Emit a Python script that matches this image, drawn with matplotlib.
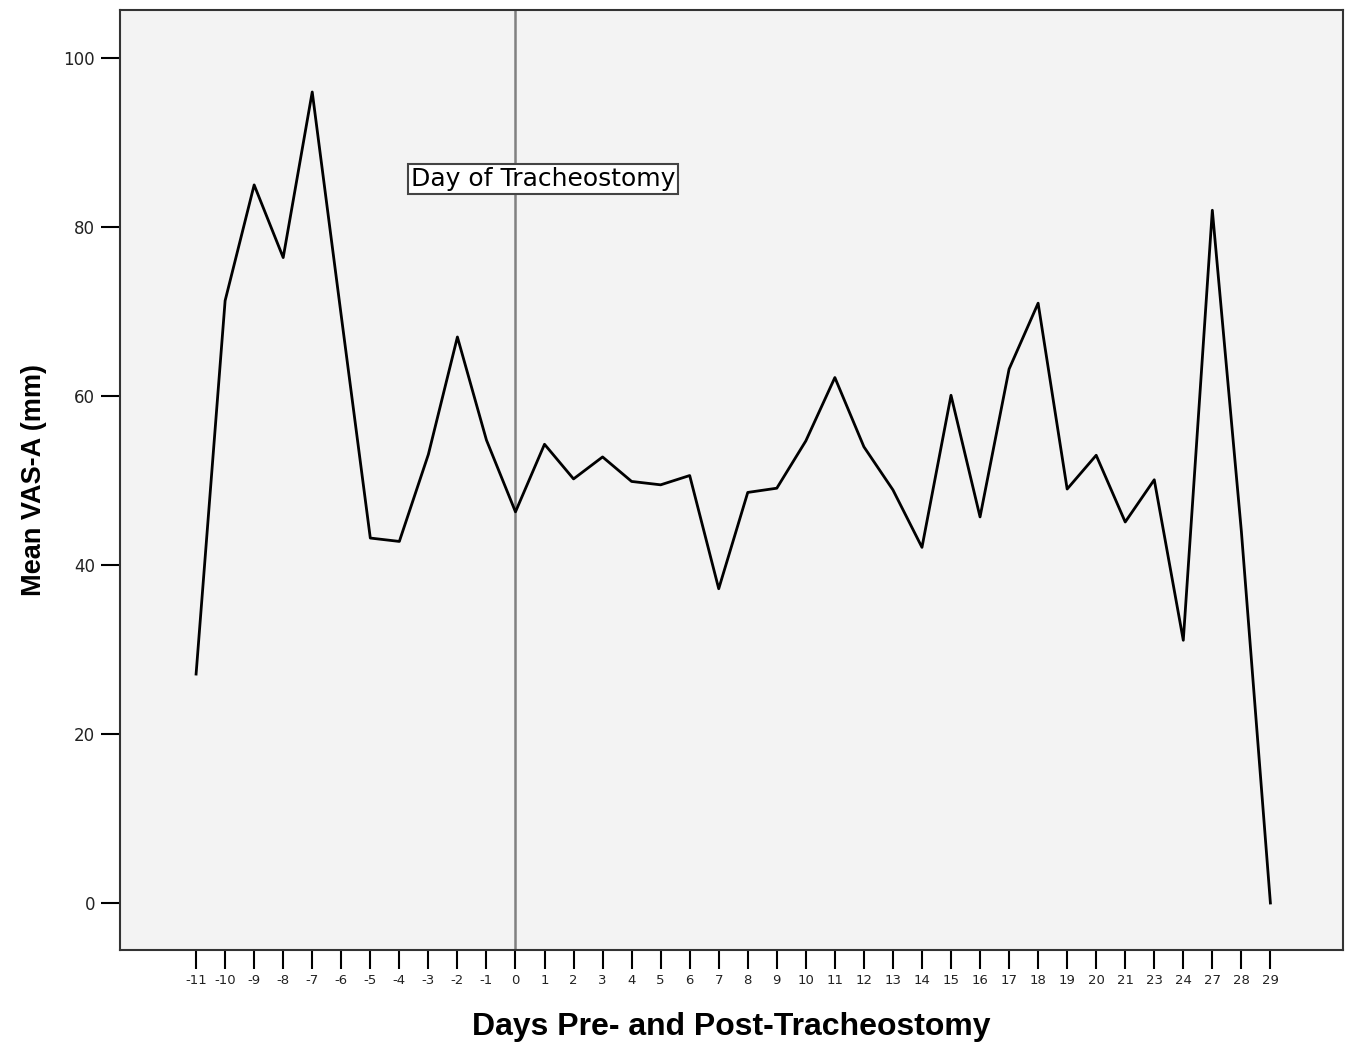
import matplotlib
matplotlib.use("Agg")
import matplotlib.pyplot as plt
import numpy as np

days = ["-11", "-10", "-9", "-8", "-7", "-6", "-5", "-4", "-3", "-2", "-1", "0",
        "1", "2", "3", "4", "5", "6", "7", "8", "9", "10", "11", "12", "13", "14",
        "15", "16", "17", "18", "19", "20", "21", "23", "24", "27", "28", "29"]
mean_vas = [27.1, 71.3, 85.0, 76.4, 96.0, 69.5, 43.2, 42.8, 53.1, 67.0, 54.8, 46.3,
            54.3, 50.2, 52.8, 49.9, 49.5, 50.6, 37.2, 48.6, 49.1, 54.7, 62.2, 54.0, 48.9, 42.1,
            60.1, 45.7, 63.2, 71.0, 49.0, 53.0, 45.1, 50.1, 31.1, 82.0, 44.0, 0.0]
y_ticks = [0, 20, 40, 60, 80, 100]

fig = plt.figure(figsize=(13.53, 10.46), dpi=100)
ax = fig.add_axes([0.0887, 0.0918, 0.9039, 0.8986])
ax.set_facecolor("#f3f3f3")

x = np.arange(len(days))
ax.plot(x, mean_vas, color="black", linewidth=2.0, zorder=3)

tidx = days.index("0")
ax.axvline(tidx, color="#808080", linewidth=1.8, zorder=2)
ax.text(tidx - 3.6, 85.7, "Day of Tracheostomy", fontsize=18, ha="left", va="center",
        color="black", zorder=4,
        bbox=dict(boxstyle="square,pad=0.12", facecolor="white", edgecolor="#444444", linewidth=1.5))

ax.set_xlim(-2.62, len(days) - 1 + 2.5)
ax.set_ylim(-5.56, 105.7)
ax.set_xticks(x)
ax.set_xticklabels(days, fontsize=9.5, color="#222222")
ax.set_yticks(y_ticks)
ax.set_yticklabels([str(v) for v in y_ticks], fontsize=12, color="#222222")
ax.tick_params(axis="both", direction="out", length=14, width=1.5, color="black")
ax.tick_params(axis="x", pad=3)
ax.tick_params(axis="y", pad=4)

for s in ax.spines.values():
    s.set_color("#333333")
    s.set_linewidth(1.5)

ax.set_xlabel("Days Pre- and Post-Tracheostomy", fontsize=23, fontweight="bold",
              family=["Liberation Sans", "DejaVu Sans"], labelpad=18)
ax.set_ylabel("Mean VAS-A (mm)", fontsize=19.5, fontweight="bold",
              family=["Liberation Sans", "DejaVu Sans"], labelpad=12)

fig.savefig("out.png", dpi=100)
